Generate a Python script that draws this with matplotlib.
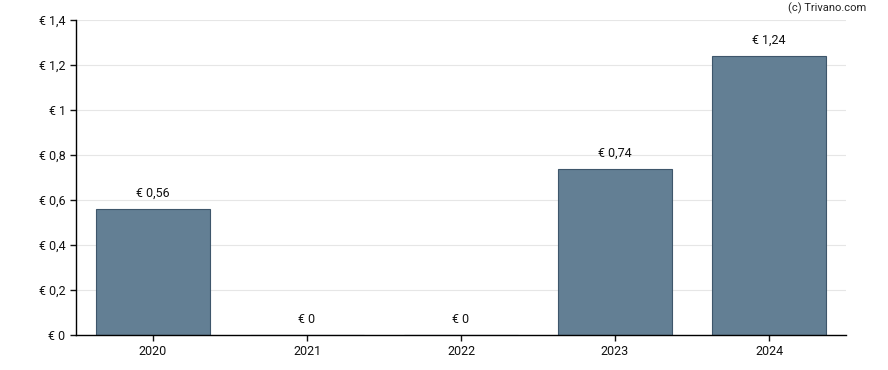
import matplotlib
matplotlib.use("Agg")
import matplotlib.pyplot as plt
from matplotlib.ticker import FuncFormatter

plt.rcParams['font.family'] = ['Roboto', 'DejaVu Sans']

# Dividend per year
years = ['2020', '2021', '2022', '2023', '2024']
values = [0.56, 0, 0, 0.74, 1.24]
labels = ['€ 0,56', '€ 0', '€ 0', '€ 0,74', '€ 1,24']


def euro(v, pos):
    s = f'{v:.1f}'.rstrip('0').rstrip('.')
    return '€ ' + s.replace('.', ',')


fig = plt.figure(figsize=(8.88, 3.70), dpi=100)
ax = fig.add_axes([76 / 888, 35 / 370, 770 / 888, 315 / 370])

x = range(len(years))
ax.bar(x, values, width=0.74, color='#637f94', edgecolor='#3e566b',
       linewidth=0.8, zorder=2)

for i, (v, lab) in enumerate(zip(values, labels)):
    ax.text(i, v + 0.04, lab, ha='center', va='bottom', fontsize=9, color='#111111')

ax.set_xlim(-0.5, 4.5)
ax.set_ylim(0, 1.4)
ax.set_yticks([0, 0.2, 0.4, 0.6, 0.8, 1.0, 1.2, 1.4])
ax.yaxis.set_major_formatter(FuncFormatter(euro))
ax.set_xticks(list(x))
ax.set_xticklabels(years)
ax.tick_params(labelsize=9, colors='#111111', length=4, width=1)
ax.grid(axis='y', color='#e6e6e6', linewidth=0.8, zorder=0)

for side in ['top', 'right']:
    ax.spines[side].set_visible(False)
for side in ['left', 'bottom']:
    ax.spines[side].set_color('black')
    ax.spines[side].set_linewidth(1)

fig.text(866 / 888, 1 - 8 / 370, '(c) Trivano.com', ha='right', va='center',
         fontsize=8, color='#222222')

fig.savefig('out.png', dpi=100)
